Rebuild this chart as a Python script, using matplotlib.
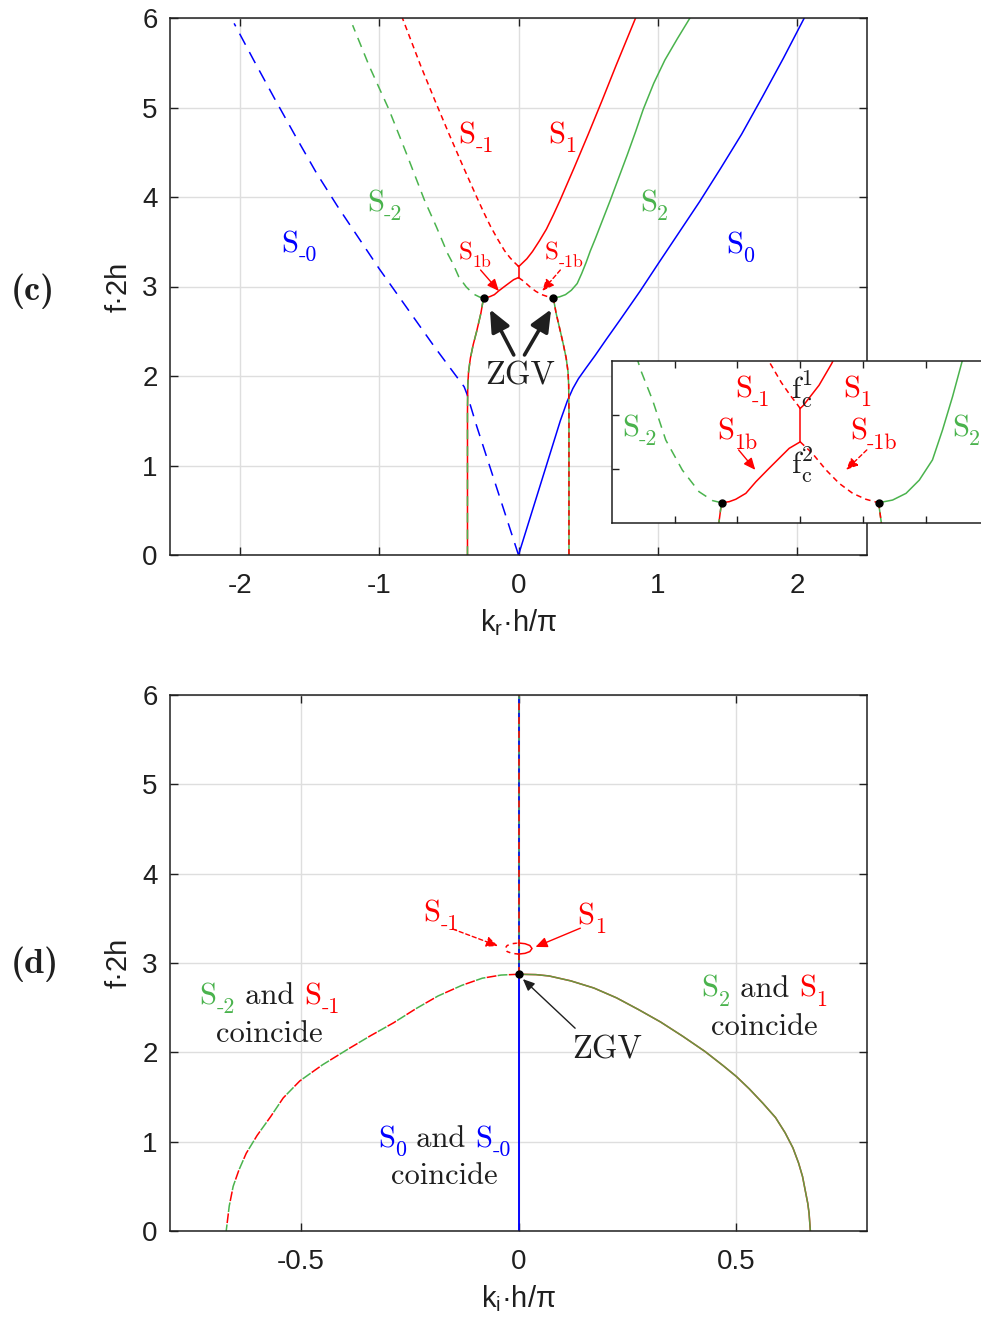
import matplotlib
matplotlib.use("Agg")
import matplotlib.pyplot as plt
from matplotlib.transforms import offset_copy

plt.rcParams["font.family"] = ["Liberation Sans", "DejaVu Sans"]
plt.rcParams["axes.unicode_minus"] = False
plt.rcParams["mathtext.default"] = "regular"
plt.rcParams["lines.scale_dashes"] = False

RED = (1.0, 0.0, 0.0)
GREEN = (0.29, 0.70, 0.30)
BLUE = (0.0, 0.0, 1.0)
DARK = (0.12, 0.12, 0.12)
SERIF = ["cmr10", "DejaVu Serif"]

# ---------------- panel (c): real wavenumber ----------------
s0_kr = [0.0, 0.1, 0.2, 0.3, 0.35, 0.39, 0.43, 0.48, 0.55, 0.63, 0.73, 0.873,
         1.0, 1.15, 1.3, 1.45, 1.6, 1.75, 1.9, 2.05]
s0_f = [0.0, 0.5, 1.0, 1.5, 1.72, 1.86, 1.97, 2.08, 2.23, 2.41, 2.63, 2.95,
        3.25, 3.6, 3.95, 4.32, 4.7, 5.12, 5.55, 6.0]

sm0_kr = [0.0, -0.1, -0.2, -0.3, -0.37, -0.39, -0.5, -0.6, -0.7, -0.85, -1.0,
          -1.15, -1.3, -1.45, -1.6, -1.75, -1.9, -2.04]
sm0_f = [0.0, 0.48, 0.96, 1.44, 1.80, 1.88, 2.11, 2.32, 2.54, 2.87, 3.2,
         3.55, 3.9, 4.27, 4.68, 5.1, 5.53, 5.94]

s1_kr = [0.0, 0.01, 0.03, 0.06, 0.1, 0.15, 0.2, 0.25, 0.3, 0.4, 0.5, 0.6, 0.7, 0.84]
s1_f = [3.224, 3.235, 3.265, 3.31, 3.39, 3.51, 3.64, 3.80, 3.97, 4.33, 4.70, 5.08, 5.47, 6.0]

sm1_kr = [0.0, -0.01, -0.03, -0.06, -0.1, -0.15, -0.2, -0.25, -0.3, -0.4, -0.5,
          -0.6, -0.7, -0.833]
sm1_f = [3.224, 3.24, 3.27, 3.32, 3.40, 3.53, 3.67, 3.83, 4.0, 4.35, 4.71,
         5.08, 5.46, 6.0]

s1b_kr = [-0.2505, -0.226, -0.205, -0.173, -0.141, -0.104, -0.067, -0.035, 0.0]
s1b_f = [2.874, 2.878, 2.887, 2.909, 2.952, 2.996, 3.039, 3.076, 3.10]

sm1b_kr = [0.0, 0.039, 0.082, 0.124, 0.167, 0.209, 0.2495]
sm1b_f = [3.10, 3.057, 2.996, 2.946, 2.909, 2.887, 2.874]

s2_kr = [0.2495, 0.294, 0.337, 0.379, 0.421, 0.453, 0.485, 0.515, 0.55, 0.60,
         0.66, 0.72, 0.78, 0.84, 0.895, 0.97, 1.05, 1.14, 1.23]
s2_f = [2.874, 2.884, 2.909, 2.958, 3.033, 3.144, 3.268, 3.397, 3.53, 3.73,
        3.97, 4.22, 4.47, 4.73, 4.98, 5.27, 5.53, 5.77, 6.0]

sm2_kr = [-0.2505, -0.279, -0.322, -0.375, -0.428, -0.47, -0.507, -0.59,
          -0.676, -0.80, -0.93, -1.07, -1.19]
sm2_f = [2.874, 2.882, 2.915, 2.995, 3.107, 3.255, 3.364, 3.67,
         3.97, 4.47, 4.98, 5.46, 5.92]

# complex branches below the ZGV points (real part)
cl_kr = [-0.2505, -0.27, -0.30, -0.325, -0.345, -0.358, -0.364, -0.366, -0.366]
cl_f = [2.874, 2.7, 2.5, 2.35, 2.2, 2.05, 1.9, 1.6, 0.0]
cr_kr = [0.2495, 0.27, 0.30, 0.322, 0.342, 0.355, 0.36, 0.362, 0.362]
cr_f = [2.874, 2.7, 2.5, 2.35, 2.2, 2.05, 1.9, 1.6, 0.0]

zgv_kr = [-0.2505, 0.2495]
zgv_f = [2.874, 2.874]

# ---------------- panel (d): imaginary wavenumber ----------------
axis_ki = [0.0, 0.0]
axis_f_all = [0.0, 6.0]
axis_f_low = [0.0, 2.874]
axis_f_high = [2.874, 6.0]

arch_r_ki = [0.0, 0.04, 0.07, 0.12, 0.173, 0.225, 0.275, 0.326, 0.377, 0.428,
             0.47, 0.5, 0.53, 0.561, 0.59, 0.612, 0.63, 0.643, 0.652, 0.658,
             0.664, 0.667, 0.67]
arch_r_f = [2.874, 2.87, 2.855, 2.80, 2.72, 2.61, 2.48, 2.34, 2.18, 2.01,
            1.85, 1.73, 1.59, 1.43, 1.27, 1.10, 0.93, 0.76, 0.61, 0.46,
            0.31, 0.2, 0.0]

arch_l_ki = [0.0, -0.04, -0.083, -0.13, -0.185, -0.235, -0.287, -0.34, -0.39,
             -0.45, -0.502, -0.54, -0.569, -0.60, -0.625, -0.642, -0.655,
             -0.664, -0.671]
arch_l_f = [2.874, 2.865, 2.83, 2.75, 2.63, 2.49, 2.33, 2.185, 2.04,
            1.86, 1.68, 1.49, 1.28, 1.07, 0.87, 0.68, 0.5, 0.28, 0.0]

loop_r_ki = [0.0, 0.015, 0.026, 0.031, 0.026, 0.015, 0.0]
loop_r_f = [3.10, 3.108, 3.128, 3.162, 3.196, 3.216, 3.224]
loop_l_ki = [0.0, -0.015, -0.026, -0.031, -0.026, -0.015, 0.0]
loop_l_f = [3.10, 3.108, 3.128, 3.162, 3.196, 3.216, 3.224]

zgv_d_ki = [0.0]
zgv_d_f = [2.874]

fig = plt.figure(figsize=(9.81, 13.2), dpi=100)
renderer = fig.canvas.get_renderer()


def rich(ax, x, y, pieces, size, ha="left", family=SERIF, transform=None):
    """Draw a run of coloured text pieces with sub/superscripts."""
    trans = transform if transform is not None else ax.transData
    widths = []
    for txt, col, kind in pieces:
        fs = size * 0.72 if kind != "n" else size
        t = fig.text(0, 0, txt, fontsize=fs, family=family)
        w = t.get_window_extent(renderer).width * 72.0 / fig.dpi
        t.remove()
        widths.append(0.0 if kind == "sup0" else w)
    total = sum(widths)
    x0 = 0.0 if ha == "left" else -total / 2.0
    for (txt, col, kind), w in zip(pieces, widths):
        fs = size * 0.72 if kind != "n" else size
        if kind == "sub":
            dy = -0.28 * size
        elif kind in ("sup", "sup0"):
            dy = 0.42 * size
        else:
            dy = 0.0
        tr = offset_copy(trans, fig=fig, x=x0, y=dy, units="points")
        ax.text(x, y, txt, transform=tr, fontsize=fs, color=col,
                family=family, va="baseline", ha="left")
        x0 += w


def style_axes(ax):
    ax.grid(True, color=(0.87, 0.87, 0.87), lw=1.0)
    ax.set_axisbelow(True)
    ax.tick_params(direction="in", length=6, width=1.0, top=True, right=True,
                   labelsize=20, color=DARK, labelcolor=DARK)
    ax.tick_params(axis="x", pad=13)
    ax.tick_params(axis="y", pad=9)
    for sp in ax.spines.values():
        sp.set_color(DARK)
        sp.set_linewidth(1.1)


LW = 1.1
DASH_B = (0, (9, 6))
DASH_G = (0, (7, 5))
DASH_R = (0, (4, 3))


def draw_real(ax):
    ax.plot(s0_kr, s0_f, color=BLUE, lw=LW)
    ax.plot(sm0_kr, sm0_f, color=BLUE, lw=LW, linestyle=DASH_B)
    ax.plot(s1_kr, s1_f, color=RED, lw=LW)
    ax.plot(sm1_kr, sm1_f, color=RED, lw=LW, linestyle=DASH_R)
    ax.plot(s1b_kr, s1b_f, color=RED, lw=LW)
    ax.plot(sm1b_kr, sm1b_f, color=RED, lw=LW, linestyle=DASH_R)
    ax.plot([0.0, 0.0], [3.10, 3.224], color=RED, lw=LW)
    ax.plot(s2_kr, s2_f, color=GREEN, lw=LW)
    ax.plot(sm2_kr, sm2_f, color=GREEN, lw=LW, linestyle=DASH_G)
    ax.plot(cl_kr, cl_f, color=RED, lw=LW)
    ax.plot(cl_kr, cl_f, color=GREEN, lw=LW, linestyle=DASH_G)
    ax.plot(cr_kr, cr_f, color=GREEN, lw=LW)
    ax.plot(cr_kr, cr_f, color=RED, lw=LW, linestyle=DASH_R)
    ax.plot(zgv_kr, zgv_f, "o", color="black", ms=5, zorder=5)


# ---------------- panel (c) ----------------
axc = fig.add_axes([170 / 981, 1 - 555 / 1320, 697 / 981, 537 / 1320])
style_axes(axc)
draw_real(axc)
axc.set_xlim(-2.5, 2.5)
axc.set_ylim(0, 6)
axc.set_xticks([-2, -1, 0, 1, 2])
axc.set_yticks([0, 1, 2, 3, 4, 5, 6])
axc.set_xlabel(r"k$_{r}$·h/π", fontsize=21, color=DARK, labelpad=6)
axc.set_ylabel("f·2h", fontsize=21, color=DARK, labelpad=7)

FS = 22
rich(axc, -0.43, 4.60, [("S", RED, "n"), ("-1", RED, "sub")], FS)
rich(axc, 0.215, 4.60, [("S", RED, "n"), ("1", RED, "sub")], FS)
rich(axc, -1.088, 3.84, [("S", GREEN, "n"), ("-2", GREEN, "sub")], FS)
rich(axc, 0.873, 3.84, [("S", GREEN, "n"), ("2", GREEN, "sub")], FS)
rich(axc, -1.70, 3.38, [("S", BLUE, "n"), ("-0", BLUE, "sub")], FS)
rich(axc, 1.49, 3.37, [("S", BLUE, "n"), ("0", BLUE, "sub")], FS)
rich(axc, -0.432, 3.30, [("S", RED, "n"), ("1b", RED, "sub")], 18)
rich(axc, 0.19, 3.30, [("S", RED, "n"), ("-1b", RED, "sub")], 18)
rich(axc, 0.014, 1.90, [("ZGV", DARK, "n")], 23.5, ha="center")

big = dict(arrowstyle="-|>,head_length=0.95,head_width=0.42", lw=2.6, color=DARK,
           mutation_scale=14, shrinkA=0, shrinkB=0)
axc.annotate("", xy=(-0.205, 2.745), xytext=(-0.034, 2.235), arrowprops=big)
axc.annotate("", xy=(0.234, 2.745), xytext=(0.043, 2.235), arrowprops=big)
small_solid = dict(arrowstyle="-|>,head_length=0.5,head_width=0.22", lw=1.0, color=RED,
                   mutation_scale=14, shrinkA=0, shrinkB=0)
small_dash = dict(arrowstyle="-|>,head_length=0.5,head_width=0.22", lw=1.0, color=RED,
                  mutation_scale=14, shrinkA=0, shrinkB=0, linestyle=(0, (3, 2)))
axc.annotate("", xy=(-0.141, 2.95), xytext=(-0.272, 3.184), arrowprops=small_solid)
axc.annotate("", xy=(0.17, 2.95), xytext=(0.30, 3.184), arrowprops=small_dash)

fig.text(11 / 981, 1 - 300 / 1320, "(c)", fontsize=26, family=["cmb10", "DejaVu Serif"],
         color=DARK, va="baseline")

# ---------------- inset ----------------
axi = fig.add_axes([611.7 / 981, 1 - 522.7 / 1320, 377 / 981, 161.7 / 1320])
axi.set_facecolor("white")
draw_real(axi)
axi.set_xlim(-0.6, 0.6)
axi.set_ylim(2.8, 3.4)
axi.set_xticks([-0.4, -0.2, 0.0, 0.2, 0.4])
axi.set_yticks([3.0, 3.2])
axi.tick_params(direction="in", length=5, width=1.0, top=True, right=True,
                labelbottom=False, labelleft=False, color=DARK)
for sp in axi.spines.values():
    sp.set_color(DARK)
    sp.set_linewidth(1.1)

rich(axi, -0.207, 3.263, [("S", RED, "n"), ("-1", RED, "sub")], FS)
rich(axi, 0.138, 3.263, [("S", RED, "n"), ("1", RED, "sub")], FS)
rich(axi, -0.568, 3.119, [("S", GREEN, "n"), ("-2", GREEN, "sub")], FS)
rich(axi, 0.483, 3.119, [("S", GREEN, "n"), ("2", GREEN, "sub")], FS)
rich(axi, -0.265, 3.107, [("S", RED, "n"), ("1b", RED, "sub")], FS)
rich(axi, 0.159, 3.107, [("S", RED, "n"), ("-1b", RED, "sub")], FS)
rich(axi, -0.026, 3.262, [("f", DARK, "n"), ("1", DARK, "sup0"), ("c", DARK, "sub")], FS)
rich(axi, -0.026, 2.983, [("f", DARK, "n"), ("2", DARK, "sup0"), ("c", DARK, "sub")], FS)
axi.annotate("", xy=(-0.143, 2.996), xytext=(-0.196, 3.07), arrowprops=small_solid)
axi.annotate("", xy=(0.146, 2.996), xytext=(0.212, 3.07), arrowprops=small_dash)

# ---------------- panel (d) ----------------
axd = fig.add_axes([170 / 981, 1 - 1231 / 1320, 697 / 981, 536 / 1320])
style_axes(axd)
axd.plot(axis_ki, axis_f_all, color=BLUE, lw=LW)
axd.plot(axis_ki, axis_f_high, color=GREEN, lw=LW)
axd.plot(axis_ki, axis_f_high, color=RED, lw=LW, linestyle=(0, (5, 5)))
axd.plot(axis_ki, axis_f_high, color=BLUE, lw=LW, linestyle=(5, (3, 7)))
axd.plot(arch_r_ki, arch_r_f, color=RED, lw=LW)
axd.plot(arch_r_ki, arch_r_f, color=GREEN, lw=LW, alpha=0.85)
axd.plot(arch_l_ki, arch_l_f, color=RED, lw=LW, linestyle=(0, (7, 9)))
axd.plot(arch_l_ki, arch_l_f, color=GREEN, lw=LW, linestyle=(8, (7, 9)))
axd.plot(loop_r_ki, loop_r_f, color=RED, lw=LW)
axd.plot(loop_l_ki, loop_l_f, color=RED, lw=LW, linestyle=(0, (3, 3)))
axd.plot(axis_ki, axis_f_low, color=BLUE, lw=LW)
axd.plot(zgv_d_ki, zgv_d_f, "o", color="black", ms=5, zorder=5)
axd.set_xlim(-0.8, 0.8)
axd.set_ylim(0, 6)
axd.set_xticks([-0.5, 0, 0.5])
axd.set_xticklabels(["-0.5", "0", "0.5"])
axd.set_yticks([0, 1, 2, 3, 4, 5, 6])
axd.set_xlabel(r"k$_{i}$·h/π", fontsize=21, color=DARK, labelpad=6)
axd.set_ylabel("f·2h", fontsize=21, color=DARK, labelpad=7)

rich(axd, -0.218, 3.47, [("S", RED, "n"), ("-1", RED, "sub")], FS)
rich(axd, 0.136, 3.43, [("S", RED, "n"), ("1", RED, "sub")], FS)
axd.annotate("", xy=(-0.047, 3.19), xytext=(-0.151, 3.38), arrowprops=small_dash)
axd.annotate("", xy=(0.039, 3.18), xytext=(0.142, 3.39), arrowprops=small_solid)
thin = dict(arrowstyle="-|>,head_length=0.5,head_width=0.22", lw=1.0, color=DARK,
            mutation_scale=14, shrinkA=0, shrinkB=0)
axd.annotate("", xy=(0.01, 2.82), xytext=(0.130, 2.27), arrowprops=thin)
rich(axd, 0.123, 1.93, [("ZGV", DARK, "n")], 23.5)

rich(axd, -0.571, 2.54, [("S", GREEN, "n"), ("-2", GREEN, "sub"), (" and ", DARK, "n"),
                         ("S", RED, "n"), ("-1", RED, "sub")], FS, ha="center")
rich(axd, -0.571, 2.12, [("coincide", DARK, "n")], FS, ha="center")
rich(axd, 0.564, 2.62, [("S", GREEN, "n"), ("2", GREEN, "sub"), (" and ", DARK, "n"),
                        ("S", RED, "n"), ("1", RED, "sub")], FS, ha="center")
rich(axd, 0.564, 2.19, [("coincide", DARK, "n")], FS, ha="center")
rich(axd, -0.17, 0.937, [("S", BLUE, "n"), ("0", BLUE, "sub"), (" and ", DARK, "n"),
                         ("S", BLUE, "n"), ("-0", BLUE, "sub")], FS, ha="center")
rich(axd, -0.17, 0.526, [("coincide", DARK, "n")], FS, ha="center")

fig.text(11 / 981, 1 - 973 / 1320, "(d)", fontsize=26, family=["cmb10", "DejaVu Serif"],
         color=DARK, va="baseline")

fig.savefig("out.png", dpi=100)
